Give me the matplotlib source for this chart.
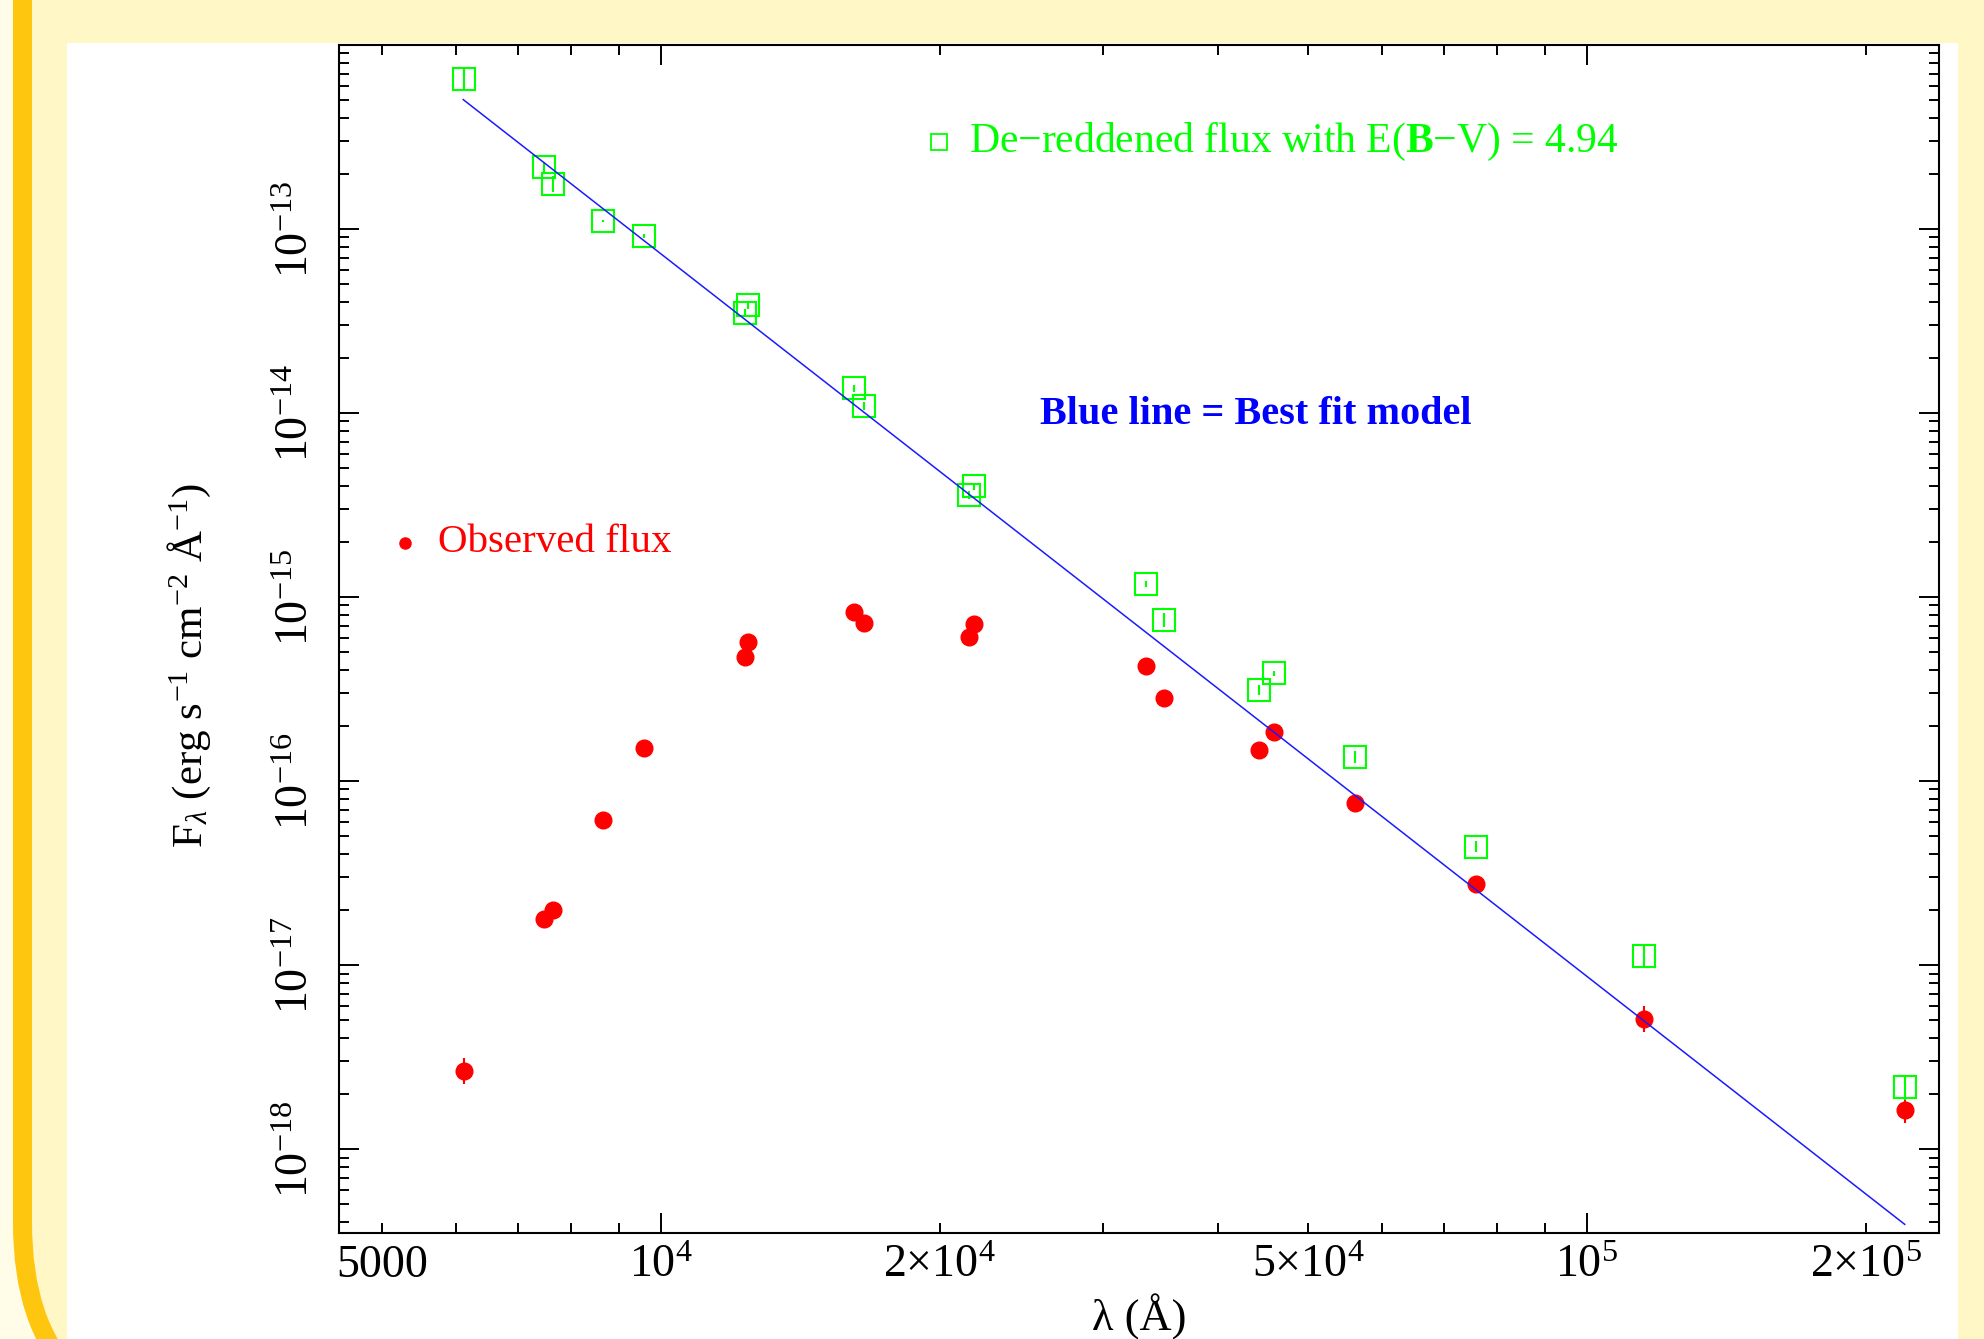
import matplotlib
matplotlib.use('Agg')
import matplotlib.pyplot as plt
from matplotlib.patches import Rectangle, FancyBboxPatch
from matplotlib.ticker import LogLocator, NullFormatter
from matplotlib.transforms import Affine2D
import numpy as np

# photometry (wavelength in Angstrom, flux in erg/s/cm2/A)
wave = [6120, 7480, 7650, 8650, 9590, 12330, 12410, 16160, 16570, 21520,
        21800, 33400, 34900, 44200, 45900, 56200, 75800, 115200, 220800]
flux_obs = [2.66e-18, 1.79e-17, 2.0e-17, 6.15e-17, 1.51e-16, 4.72e-16, 5.7e-16,
            8.3e-16, 7.2e-16, 6.1e-16, 7.1e-16, 4.2e-16, 2.84e-16, 1.48e-16,
            1.85e-16, 7.6e-17, 2.77e-17, 5.08e-18, 1.63e-18]
flux_dered = [6.56e-13, 2.17e-13, 1.76e-13, 1.1e-13, 9.2e-14, 3.5e-14, 3.85e-14,
              1.36e-14, 1.09e-14, 3.58e-15, 4.0e-15, 1.18e-15, 7.5e-16, 3.13e-16,
              3.85e-16, 1.35e-16, 4.39e-17, 1.12e-17, 2.17e-18]
# error bars, in dex
err_obs = [0.07, 0.02, 0.02, 0.01, 0.01, 0.02, 0.02, 0.01, 0.01, 0.01,
           0.01, 0.01, 0.01, 0.01, 0.01, 0.02, 0.02, 0.07, 0.07]
err_dered = [0.06, 0.03, 0.045, 0.005, 0.01, 0.02, 0.02, 0.02, 0.02, 0.02,
             0.02, 0.018, 0.036, 0.027, 0.015, 0.032, 0.03, 0.065, 0.067]

# best fit model line (end points)
model_wave = [6115, 220400]
model_flux = [5.05e-13, 3.9e-19]

xticks_major = [1e4, 1e5]
xlabels_major = [r'$10^4$', r'$10^5$']
xticks_minor = [5000, 6000, 7000, 8000, 9000, 2e4, 3e4, 4e4, 5e4, 6e4, 7e4,
                8e4, 9e4, 2e5]
xlabels_minor = ['5000', '', '', '', '', r'$2{\times}10^4$', '', '', r'$5{\times}10^4$',
                 '', '', '', '', r'$2{\times}10^5$']
ydecades = [-18, -17, -16, -15, -14, -13]

plt.rcParams['font.family'] = 'Liberation Serif'
plt.rcParams['mathtext.fontset'] = 'custom'
plt.rcParams['mathtext.rm'] = 'Liberation Serif'
plt.rcParams['mathtext.it'] = 'Liberation Serif:italic'
plt.rcParams['mathtext.bf'] = 'Liberation Serif:bold'

W, H = 1984, 1339
fig = plt.figure(figsize=(W / 100, H / 100), dpi=100, facecolor='#fffce8')
pix = Affine2D().scale(1 / 100) + fig.dpi_scale_trans

# page decoration: gold rounded border, pale yellow page, white panel
border = FancyBboxPatch((22.5, -86), 3000, 2000, boxstyle='round,pad=0,rounding_size=202',
                        transform=pix, facecolor='#fff8c6', edgecolor='#ffc610',
                        linewidth=13.7, zorder=-3)
fig.add_artist(border)
panel = Rectangle((67, -10), 1958 - 67, H - 43 + 10, transform=pix,
                  facecolor='white', edgecolor='none', zorder=-2)
fig.add_artist(panel)

ax = fig.add_axes([339 / W, (H - 1233) / H, 1600 / W, 1188 / H])
ax.set_xscale('log')
ax.set_yscale('log')

wave = np.array(wave)
fo = np.array(flux_obs)
fd = np.array(flux_dered)
eo = np.array(err_obs)
ed = np.array(err_dered)

ax.errorbar(wave, fo, yerr=[fo - fo * 10 ** -eo, fo * 10 ** eo - fo], fmt='o',
            color='#ff0000', ms=12, elinewidth=1.5, capsize=0, zorder=3)
ax.errorbar(wave, fd, yerr=[fd - fd * 10 ** -ed, fd * 10 ** ed - fd], fmt='s',
            mfc='none', mec='#00ff00', ecolor='#00ff00', ms=16, mew=1.5,
            elinewidth=1.5, capsize=0, zorder=3)
ax.plot(model_wave, model_flux, color='#1a1aff', lw=1.1, zorder=4)

ax.set_xlim(4490, 2.4e5)
ax.set_ylim(3.5e-19, 1e-12)

ax.set_xticks(xticks_major, xlabels_major)
ax.set_xticks(xticks_minor, xlabels_minor, minor=True)
ax.set_yticks([10.0 ** d for d in ydecades], [r'$10^{%d}$' % d for d in ydecades])
ax.yaxis.set_minor_locator(LogLocator(base=10, subs=np.arange(2, 10), numticks=50))
ax.yaxis.set_minor_formatter(NullFormatter())

ax.tick_params(which='both', direction='in', top=True, right=True, width=1.4,
               labelsize=33, color='black')
ax.tick_params(which='major', length=14.4)
ax.tick_params(which='minor', length=7.2)
ax.tick_params(axis='x', which='both', pad=8)
ax.tick_params(axis='y', which='both', pad=15)
for lab in ax.get_yticklabels():
    lab.set_rotation(90)
    lab.set_va('center')
for sp in ax.spines.values():
    sp.set_linewidth(1.5)

ax.set_xlabel('λ (Å)', fontsize=32, labelpad=5)
ax.set_ylabel(r'F$_\lambda$ (erg s$^{-1}$ cm$^{-2}$ Å$^{-1}$)', fontsize=31)
ax.yaxis.set_label_coords(-0.079, 0.478)

# annotations
ax.plot([0.375], [0.918], 's', transform=ax.transAxes, mfc='none', mec='#00ff00',
        ms=11, mew=1.3, clip_on=False)
ax.text(0.394, 0.918, r'De$-$reddened flux with E($\mathbf{B}$$-$V) = 4.94',
        transform=ax.transAxes, color='#00ff00', fontsize=30, va='center')
ax.text(0.438, 0.689, 'Blue line = Best fit model', transform=ax.transAxes,
        color='#0000ff', fontsize=29, fontweight='bold', va='center')
ax.plot([0.041], [0.581], 'o', transform=ax.transAxes, color='#ff0000', ms=8,
        clip_on=False)
ax.text(0.062, 0.581, 'Observed flux', transform=ax.transAxes, color='#ff0000',
        fontsize=29.5, va='center')

fig.savefig('out.png', dpi=100, facecolor=fig.get_facecolor())
